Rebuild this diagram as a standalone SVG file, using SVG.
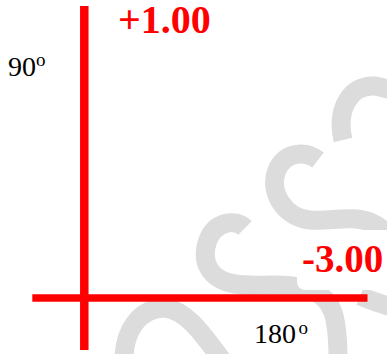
<svg xmlns="http://www.w3.org/2000/svg" width="387" height="354" viewBox="0 0 387 354">
  <style>
    .wm { fill: none; stroke: #dcdcdc; stroke-width: 19; stroke-linecap: butt; }
    .axis { stroke: #ff0000; fill: none; }
    .val { font-family: "Liberation Serif", "Times New Roman", serif; font-weight: bold; fill: #ff0000; }
    .lbl { font-family: "Liberation Serif", "Times New Roman", serif; fill: #000000; }
  </style>
  <rect width="387" height="354" fill="#ffffff"/>
  <g id="watermark">
    <path class="wm" d="M 343 140 C 336 110 350 84 375 86 C 382 87 387 89 392 90"/>
    <path class="wm" d="M 318 160 C 305 150 285 152 277 170 C 268 192 285 218 310 220 C 330 222 350 215 370 222 C 385 228 392 240 395 250"/>
    <path class="wm" d="M 360 296 C 370 300 380 304 395 308"/>
    <path class="wm" d="M 245 228 C 235 218 215 222 208 240 C 200 262 210 280 235 284 C 260 288 290 280 315 292 C 332 300 338 315 338 360"/>
    <path class="wm" d="M 124 360 C 124 330 140 308 165 308 C 185 310 200 330 222 360"/>
    <rect x="297" y="230" width="100" height="60" rx="8" fill="#ffffff"/>
  </g>
  <g id="axes">
    <line class="axis" x1="84.3" y1="6" x2="84.3" y2="350" stroke-width="8.5"/>
    <line class="axis" x1="32.3" y1="298" x2="367.5" y2="298" stroke-width="7.5"/>
  </g>
  <g id="label-plus">
    <text class="val" x="118" y="33.3" font-size="40">+1.00</text>
  </g>
  <g id="label-minus">
    <text class="val" x="302" y="272.3" font-size="39">-3.00</text>
  </g>
  <g id="label-90">
    <text class="lbl" x="8" y="75.7" font-size="28">90</text>
    <text class="lbl" x="36" y="66" font-size="19">o</text>
  </g>
  <g id="label-180">
    <text class="lbl" x="254" y="343.3" font-size="28">180</text>
    <text class="lbl" x="298.5" y="334" font-size="19">o</text>
  </g>
</svg>
